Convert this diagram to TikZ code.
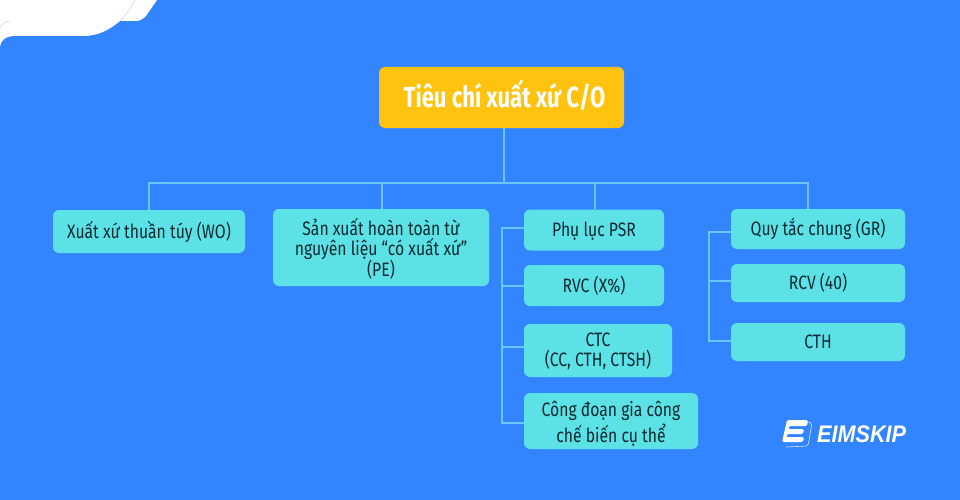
\documentclass[tikz,border=0pt]{standalone}
\usepackage{fontspec}
\setmainfont[FakeStretch=0.81]{Fira Sans}
\newfontfamily\titlefont[FakeStretch=0.76]{Fira Sans}
\newfontfamily\logofont[FakeStretch=0.9]{Liberation Sans}
\usepackage{xcolor}
\usetikzlibrary{positioning,calc}
\definecolor{bgblue}{HTML}{3385FF}
\definecolor{boxcyan}{HTML}{5CE1E6}
\definecolor{titleyellow}{HTML}{FFC20E}
\definecolor{linkblue}{HTML}{6FC3FF}
\definecolor{textdark}{HTML}{0A2A30}
\tikzset{
  item/.style={fill=boxcyan, rounded corners=6pt, align=center, text=textdark, font=\fontsize{19.4}{20}\selectfont, inner sep=0pt, text height=13.4pt, text depth=0pt},
  titlebox/.style={fill=titleyellow, rounded corners=6pt, text=white, font=\fontsize{29}{30}\titlefont\bfseries, inner sep=0pt, text height=20pt, text depth=0pt},
  link/.style={draw=linkblue, line width=2pt}
}
\begin{document}
\begin{tikzpicture}[x=1pt,y=-1pt]
\useasboundingbox (0,0) rectangle (960,500);
\fill[bgblue] (0,0) rectangle (960,500);

% Corner shape
\fill[white] (0,0) -- (157,0) -- (148,13) .. controls (145,18) and (141,21) .. (136,21) -- (120,21)
  .. controls (108,31) and (97,36) .. (83,36) -- (13,36) .. controls (6,36) and (0,41) .. (0,47) -- cycle;
\draw[bgblue!40, line width=0.4pt] (135,0) .. controls (131,8) and (126,15) .. (120,21);
\draw[bgblue!40, line width=0.4pt] (0,28) .. controls (2,23) and (6,21) .. (11,21);

% Boxes
\node[titlebox, minimum width=245pt, minimum height=61pt] (title) at (501.5,97.5) {\hspace*{6pt}Tiêu chí xuất xứ C/O};
\node[item, minimum width=192pt, minimum height=43pt] (wo) at (149,231.5) {Xuất xứ thuần túy (WO)};
\node[item, minimum width=216pt, minimum height=77pt, text height=58.4pt] (pe) at (381,247.5) {Sản xuất hoàn toàn từ\\nguyên liệu “có xuất xứ”\\(PE)};
\node[item, minimum width=140pt, minimum height=41pt] (psr) at (594,230) {Phụ lục PSR};
\node[item, minimum width=140pt, minimum height=41pt] (rvc) at (594,285.5) {RVC (X\%)};
\node[item, minimum width=148pt, minimum height=53pt, text height=32.4pt] (ctc) at (598,350.5) {CTC\\(CC, CTH, CTSH)};
\node[item, minimum width=174pt, minimum height=56pt, text height=42pt] (cdgc) at (611,421) {Công đoạn gia công\\[2pt]chế biến cụ thể};
\node[item, minimum width=174pt, minimum height=40pt] (gr) at (818,229) {Quy tắc chung (GR)};
\node[item, minimum width=174pt, minimum height=38pt] (rcv) at (818,283) {RCV (40)};
\node[item, minimum width=174pt, minimum height=38pt] (cth) at (818,342) {CTH};

% Main branches
\coordinate (hub) at (504,182.5);
\coordinate (busl) at (149,182.5);
\coordinate (busr) at (808,182.5);
\coordinate (dpe) at (382,182.5);
\coordinate (dpsr) at (595,182.5);
\draw[link] (title.south -| hub) -- (hub);
\draw[link] (wo.north -| busl) -- (busl) -- (busr) -- (gr.north -| busr);
\draw[link] (dpe) -- (pe.north -| dpe);
\draw[link] (dpsr) -- (psr.north -| dpsr);

% Left rails
\coordinate (railp) at (501.5,228);
\coordinate (railq) at (709,232);
\coordinate (tapctc) at ($(ctc.west)+(0,-3.5)$);
\coordinate (tapcdgc) at ($(cdgc.west)+(0,2)$);
\coordinate (taprcv) at ($(rcv.west)+(0,-2)$);
\coordinate (tapcth) at ($(cth.west)+(0,-1.5)$);
\draw[link] (psr.west |- railp) -- (railp) |- (tapcdgc);
\draw[link] (railp |- rvc.west) -- (rvc.west);
\draw[link] (railp |- tapctc) -- (tapctc);
\draw[link] (gr.west |- railq) -- (railq) |- (tapcth);
\draw[link] (railq |- taprcv) -- (taprcv);

% Logo
\fill[white, rounded corners=1.5pt] (787,420) -- (808,420) -- (807,426) -- (789,426) -- (788,429) -- (804,429) -- (803,434) -- (787,434)
  -- (786,437) -- (804,437) -- (803,442) -- (782,442) -- cycle;
\draw[white!80!bgblue, line width=0.6pt, rounded corners=2pt] (804,421) -- (812,423) -- (808,446) -- (786,447);
\node[text=white, font=\fontsize{24}{24}\logofont\bfseries\itshape, inner sep=0pt, anchor=west] (logo) at (817,434) {EIMSKIP};
\end{tikzpicture}
\end{document}
